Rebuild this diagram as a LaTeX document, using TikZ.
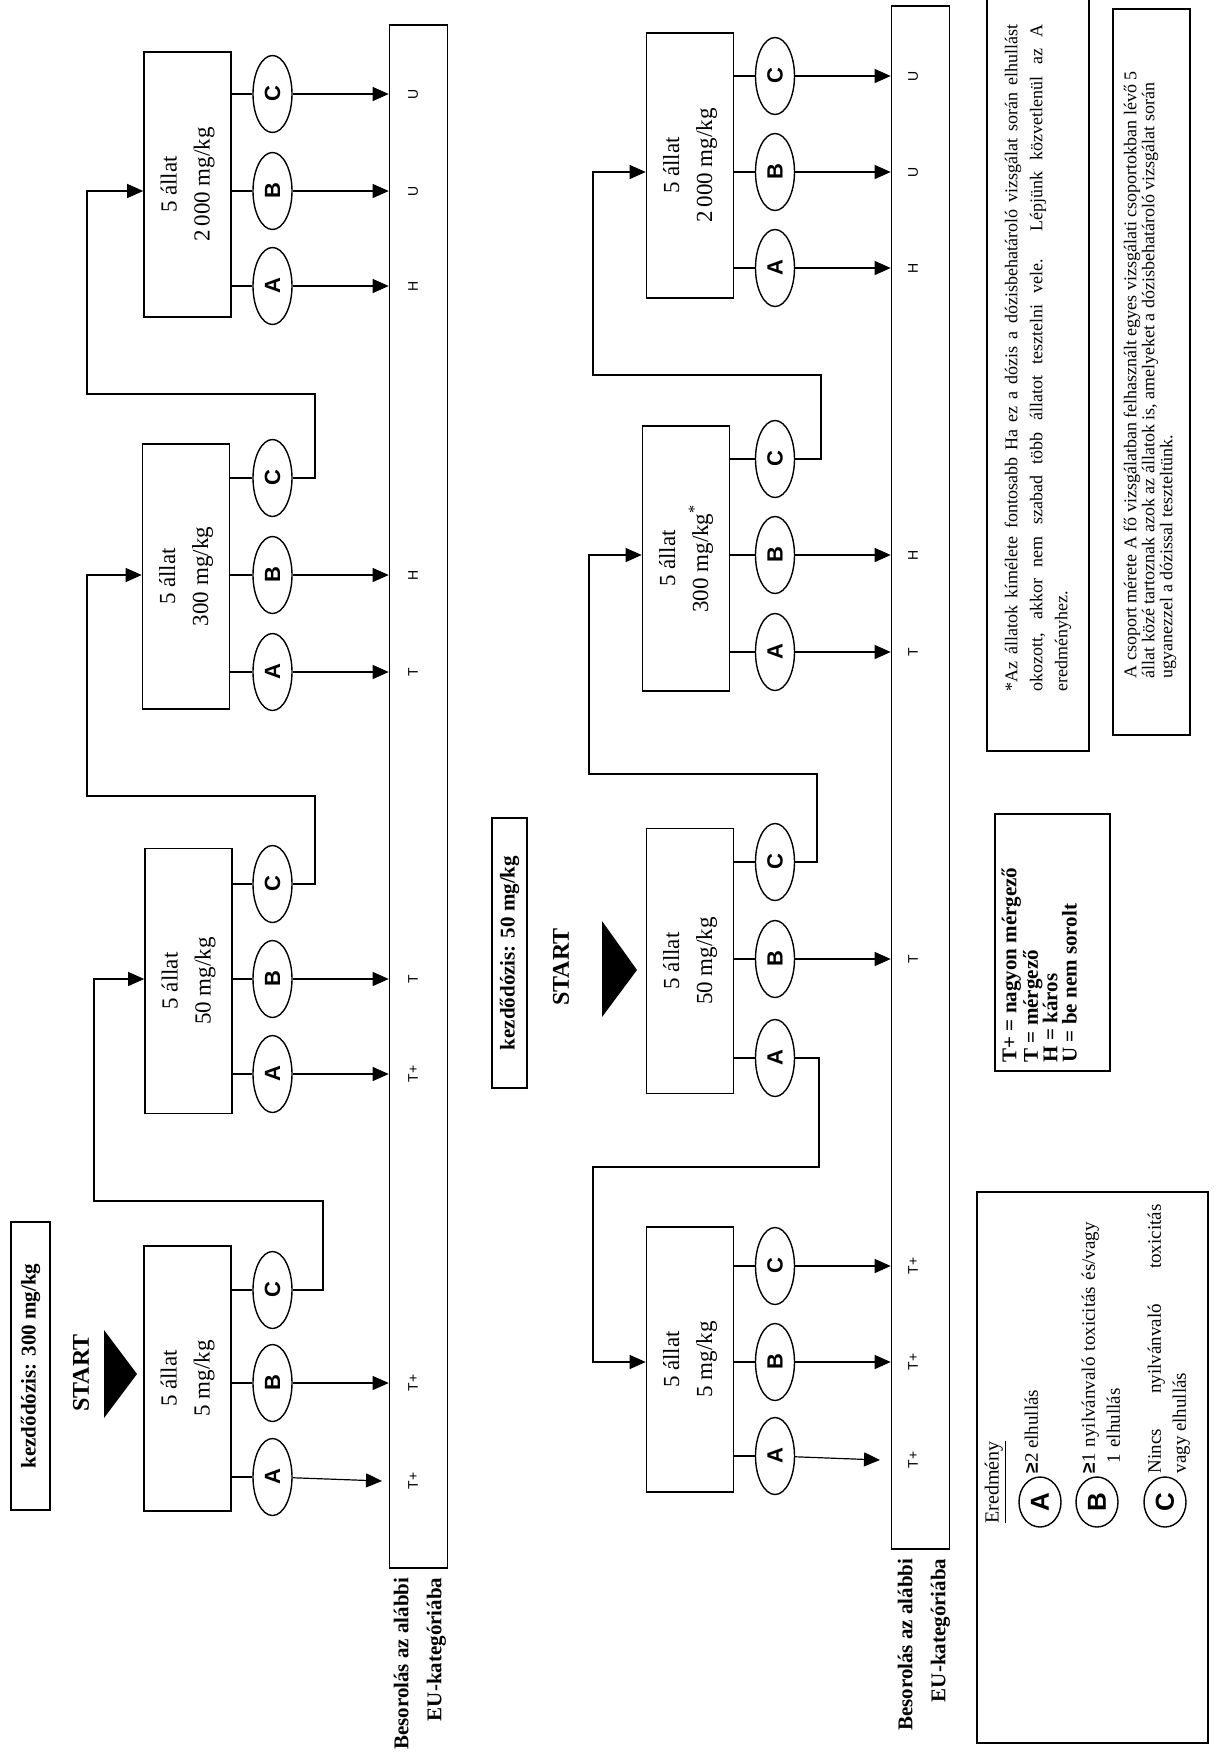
\documentclass[tikz,border=0pt]{standalone}
\usepackage{fontspec}
\setmainfont{Liberation Serif}
\setsansfont{Liberation Sans}
\usetikzlibrary{arrows.meta,shapes.geometric}
\begin{document}
\begin{tikzpicture}[x=0.5pt,y=-0.5pt,line width=0.6pt,
  every node/.style={rotate=90,inner sep=0pt},
  dosebox/.style={draw,line width=0.8pt,minimum width=132.5pt,minimum height=43.5pt,align=center,font=\fontsize{11.5}{16.5}\selectfont},
  res/.style={draw,ellipse,line width=0.7pt,minimum width=38.5pt,minimum height=19.5pt,font=\sffamily\bfseries\fontsize{11}{11}\selectfont},
  catbar/.style={draw,line width=0.8pt,minimum width=771.5pt,minimum height=29pt},
  cat/.style={font=\sffamily\fontsize{7}{7}\selectfont},
  dosestart/.style={draw,line width=1pt,font=\bfseries\fontsize{10.5}{10.5}\selectfont},
  golabel/.style={font=\bfseries\fontsize{12}{12}\selectfont},
  barlabel/.style={anchor=east,align=right,font=\bfseries\fontsize{10.5}{16.5}\selectfont},
  keytext/.style={anchor=north west,font=\fontsize{9.5}{12.5}\selectfont},
  arr/.style={-{Triangle[length=8pt,width=7pt]}},
]
\useasboundingbox (0,0) rectangle (1216,1753);

% ---- upper flow: starting dose 300 mg/kg ----
\node[dosestart,minimum width=144pt,minimum height=19.5pt] (ukezd) at (30.5,1366) {kezdődózis: 300 mg/kg};
\node[golabel] (ugo) at (81,1373) {START};
\fill (104,1330) -- (137,1374) -- (104,1418) -- cycle;

\node[dosebox] (u2000) at (187.5,184.5) {5 állat\\2\,000 mg/kg};
\node[dosebox] (u300) at (186,576.5) {5 állat\\300 mg/kg};
\node[dosebox] (u50) at (188.5,981) {5 állat\\50 mg/kg};
\node[dosebox] (u5) at (187.5,1378.5) {5 állat\\5 mg/kg};
\foreach \g/\yc/\yb/\ya in {u2000/94/191/286,u300/478/575/672,u50/884/979/1074,u5/1290/1383/1477}{
  \node[res] (\g-c) at (272.5,\yc) {C};
  \node[res] (\g-b) at (272.5,\yb) {B};
  \node[res] (\g-a) at (272.5,\ya) {A};
  \foreach \r in {a,b,c} \draw (\g.south |- \g-\r) -- (\g-\r);
}

\node[catbar] (ubar) at (418.5,796.5) {};
\node[barlabel] (ubarlabel) at (420,1577) {Besorolás az alábbi\\EU-kategóriába};
\coordinate (ucat) at (413,0);
\foreach \e/\t in {u2000-a/H,u2000-b/U,u2000-c/U,u300-a/T,u300-b/H,u50-a/T+,u50-b/T,u5-b/T+}{
  \draw[arr] (\e) -- (\e -| ubar.north);
  \node[cat] (\e-cat) at (\e -| ucat) {\t};
}
\coordinate (u5tip) at (382,1481);
\draw[arr] (u5-a) -- (u5tip);
\node[cat] (u5-a-cat) at (413,1481) {T+};

% next dose
\draw[arr] (u5-c) -- (323,1290) |- (94,1201) |- (u50.north |- u50-b);
\draw[arr] (u50-c) -- (315,884) |- (87,796) |- (u300.north |- u300-b);
\draw[arr] (u300-c) -- (315,478) |- (87,394) |- (u2000.north |- u2000-b);

% ---- lower flow: starting dose 50 mg/kg ----
\node[dosestart,minimum width=135pt,minimum height=17.5pt] (lkezd) at (509.5,953) {kezdődózis: 50 mg/kg};
\node[golabel] (lgo) at (561,967) {START};
\fill (602,921) -- (637,970) -- (602,1017) -- cycle;

\node[dosebox] (l2000) at (690,165.5) {5 állat\\2\,000 mg/kg};
\node[dosebox] (l300) at (686,558.5) {5 állat\\300 mg/kg\textsuperscript{*}};
\node[dosebox] (l50) at (690,961) {5 állat\\50 mg/kg};
\node[dosebox] (l5) at (690,1359.5) {5 állat\\5 mg/kg};
\foreach \g/\yc/\yb/\ya in {l2000/76/172/268,l300/459/555/652,l50/862/959/1058,l5/1266/1362/1456}{
  \node[res] (\g-c) at (775,\yc) {C};
  \node[res] (\g-b) at (775,\yb) {B};
  \node[res] (\g-a) at (775,\ya) {A};
  \foreach \r in {a,b,c} \draw (\g.south |- \g-\r) -- (\g-\r);
}

\node[catbar] (lbar) at (920.5,777.5) {};
\node[barlabel] (lbarlabel) at (924,1558) {Besorolás az alábbi\\EU-kategóriába};
\coordinate (lcat) at (913,0);
\foreach \e/\t in {l2000-a/H,l2000-b/U,l2000-c/U,l300-a/T,l300-b/H,l50-b/T,l5-b/T+,l5-c/T+}{
  \draw[arr] (\e) -- (\e -| lbar.north);
  \node[cat] (\e-cat) at (\e -| lcat) {\t};
}
\coordinate (l5tip) at (880,1460);
\draw[arr] (l5-a) -- (l5tip);
\node[cat] (l5-a-cat) at (913,1460) {T+};

% next dose
\draw[arr] (l50-a) -- (819,1058) |- (593,1167) |- (l5.north |- l5-b);
\draw[arr] (l50-c) -- (817,862) |- (589,774) |- (l300.north |- l300-b);
\draw[arr] (l300-c) -- (821,459) |- (593,375) |- (l2000.north |- l2000-b);

% ---- notes ----
\draw[line width=0.8pt] (987,-10) rectangle (1089,751);
\node[anchor=west,text width=333.5pt,align=justify,font=\fontsize{9}{12.5}\selectfont] (note1) at (1038,692)
  {*Az állatok kímélete fontosabb Ha ez a dózis a dózisbehatároló vizsgálat során elhullást\linebreak okozott, akkor nem szabad több állatot tesztelni vele. Lépjünk közvetlenül az A\linebreak eredményhez.};
\draw[line width=0.8pt] (1113,9) rectangle (1190,735);
\node[anchor=west,align=left,font=\fontsize{9}{9}\selectfont] (note2) at (1150,679)
  {A csoport mérete A fő vizsgálatban felhasznált egyes vizsgálati csoportokban lévő 5\\állat közé tartoznak azok az állatok is, amelyeket a dózisbehatároló vizsgálat során\\ugyanezzel a dózissal teszteltünk.};

% ---- category key ----
\draw[line width=0.8pt] (995,814) rectangle (1110,1071);
\node[anchor=north west,align=left,font=\bfseries\fontsize{10.5}{9.7}\selectfont] (catkey) at (1001,1063)
  {T+ = nagyon mérgező\\T = mérgező\\H = káros\\U = be nem sorolt};

% ---- result key ----
\draw[line width=0.8pt] (977,1192) rectangle (1208,1743);
\node[keytext,font=\fontsize{10}{10}\selectfont] (reshead) at (984,1524) {\underline{Eredmény}};
\node[res,minimum width=25pt,minimum height=21pt,font=\sffamily\bfseries\fontsize{13}{13}\selectfont] (keya) at (1040,1502) {A};
\node[res,minimum width=25pt,minimum height=21pt,font=\sffamily\bfseries\fontsize{13}{13}\selectfont] (keyb) at (1097,1502) {B};
\node[res,minimum width=25pt,minimum height=21pt,font=\sffamily\bfseries\fontsize{13}{13}\selectfont] (keyc) at (1165,1502) {C};
\node[keytext,align=left] (keyatext) at (1024,1474) {{\sffamily\bfseries ≥}2 elhullás};
\node[keytext,text width=134.5pt,align=left] (keybtext) at (1081,1474) {{\sffamily\bfseries ≥}1 nyilvánvaló toxicitás és/vagy\\\hspace*{5pt}1 elhullás};
\node[keytext,text width=134.5pt,align=justify] (keyctext) at (1147,1474) {Nincs nyilvánvaló toxicitás\linebreak vagy elhullás};
\end{tikzpicture}
\end{document}
